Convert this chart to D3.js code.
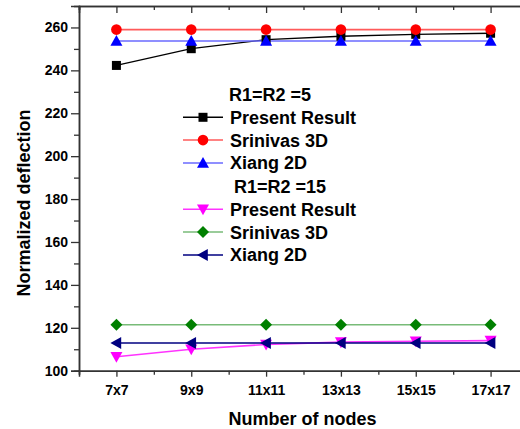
<!DOCTYPE html>
<html><head><meta charset="utf-8">
<script src="https://cdn.jsdelivr.net/npm/d3@7"></script>
<style>body{margin:0;background:#fff}text{font-family:"Liberation Sans",Arial,sans-serif;font-weight:bold;fill:#000}</style>
</head><body><svg id="c" width="520" height="429"></svg>
<script>
const categories = ["7x7","9x9","11x11","13x13","15x15","17x17"];
const yTicks = [100,120,140,160,180,200,220,240,260];
const present5 = [242.3,250.1,254.3,255.9,256.8,257.3];
const srinivas5 = [259,259,259,259,259,259];
const xiang5 = [253.7,253.7,253.7,253.7,253.7,253.7];
const present15 = [106.5,110,112.2,113.3,113.7,114];
const srinivas15 = [121.4,121.4,121.4,121.4,121.4,121.4];
const xiang15 = [112.9,112.9,112.9,112.9,112.9,112.9];
const legendTitles = ["R1=R2 =5","R1=R2 =15"];

const series = [
  {name:"Present Result", vals:present5, line:"#000", mark:"#000", sym:"square", g:0},
  {name:"Srinivas 3D", vals:srinivas5, line:"#ff5a5a", mark:"#ff0000", sym:"circle", g:0},
  {name:"Xiang 2D", vals:xiang5, line:"#6a6aff", mark:"#0000ff", sym:"up", g:0},
  {name:"Present Result", vals:present15, line:"#ff33ff", mark:"#ff00ff", sym:"down", g:1},
  {name:"Srinivas 3D", vals:srinivas15, line:"#78bb78", mark:"#008000", sym:"diamond", g:1},
  {name:"Xiang 2D", vals:xiang15, line:"#000080", mark:"#000080", sym:"left", g:1}
];

const svg = d3.select("#c");
const L=79, T=6, B=370.7;
const x = d3.scaleLinear().domain([-0.5,5.5]).range([L,528]);
const y = d3.scaleLinear().domain([100,270]).range([B,T]);

svg.append("g").attr("transform",`translate(${L},0)`)
  .call(d3.axisLeft(y).tickValues(yTicks).tickSize(8).tickPadding(3).tickFormat(d3.format("d")));
svg.append("g").attr("transform",`translate(${L},0)`)
  .call(d3.axisLeft(y).tickValues(d3.range(110,270,20)).tickSize(5).tickFormat(""));
svg.append("g").attr("transform",`translate(0,${B})`)
  .call(d3.axisBottom(x).tickValues(d3.range(0,6)).tickSize(6).tickPadding(8).tickFormat(i=>categories[i]));
svg.append("g").attr("transform",`translate(0,${B})`)
  .call(d3.axisBottom(x).tickValues(d3.range(-0.5,6,1)).tickSize(4).tickFormat(""));
svg.append("g").attr("transform",`translate(0,${T})`)
  .call(d3.axisTop(x).tickValues(d3.range(0,6)).tickSize(-7).tickFormat(""));
svg.append("g").attr("transform",`translate(0,${T})`)
  .call(d3.axisTop(x).tickValues(d3.range(-0.5,6,1)).tickSize(-4).tickFormat(""));
svg.selectAll(".domain").attr("stroke","#333").attr("stroke-width",1.5);
svg.selectAll(".tick line").attr("stroke","#333").attr("stroke-width",1.3);
svg.selectAll(".tick text").style("font-size","14px").style("font-family","Liberation Sans, Arial").style("font-weight","bold").attr("fill","#000");

svg.append("text").attr("x",302.5).attr("y",425).attr("text-anchor","middle").style("font-size","18px").text("Number of nodes");
svg.append("text").attr("transform","translate(30,203) rotate(-90)").attr("text-anchor","middle").style("font-size","18px").text("Normalized deflection");

function marker(g, sym, color, cx, cy){
  if(sym==="square") g.append("rect").attr("x",cx-4.5).attr("y",cy-4.5).attr("width",9).attr("height",9).attr("fill",color);
  else if(sym==="circle") g.append("circle").attr("cx",cx).attr("cy",cy).attr("r",5.3).attr("fill",color);
  else {
    const s=6;
    let pts;
    if(sym==="up") pts=[[0,-s],[s,s*0.8],[-s,s*0.8]];
    else if(sym==="down") pts=[[0,s],[s,-s*0.8],[-s,-s*0.8]];
    else if(sym==="left") pts=[[-s,0],[s*0.8,-s],[s*0.8,s]];
    else pts=[[0,-s],[s,0],[0,s],[-s,0]];
    g.append("polygon").attr("points",pts.map(p=>[cx+p[0],cy+p[1]].join(",")).join(" ")).attr("fill",color);
  }
}

const line = d3.line().x((d,i)=>x(i)).y(d=>y(d));
const plot = svg.append("g");
series.forEach(s=>{
  plot.append("path").attr("d",line(s.vals)).attr("fill","none").attr("stroke",s.line).attr("stroke-width",s.sym==="square"?1.3:1.6);
});
series.forEach(s=>{
  const g=plot.append("g");
  s.vals.forEach((v,i)=>marker(g,s.sym,s.mark,x(i),y(v)));
});

const lg = svg.append("g");
const titleX=[229,234];
const titleY=[101,193];
legendTitles.forEach((t,k)=>{
  lg.append("text").attr("x",titleX[k]).attr("y",titleY[k]).style("font-size","18px").text(t);
});
series.forEach((s,j)=>{
  const base = titleY[s.g] + 22.8*((j%3)+1);
  const cy = base-6.5;
  lg.append("line").attr("x1",183).attr("x2",223).attr("y1",cy).attr("y2",cy).attr("stroke",s.line).attr("stroke-width",1.5);
  marker(lg, s.sym, s.mark, 203, cy);
  lg.append("text").attr("x",230).attr("y",base).style("font-size","18px").text(s.name);
});
</script></body></html>
